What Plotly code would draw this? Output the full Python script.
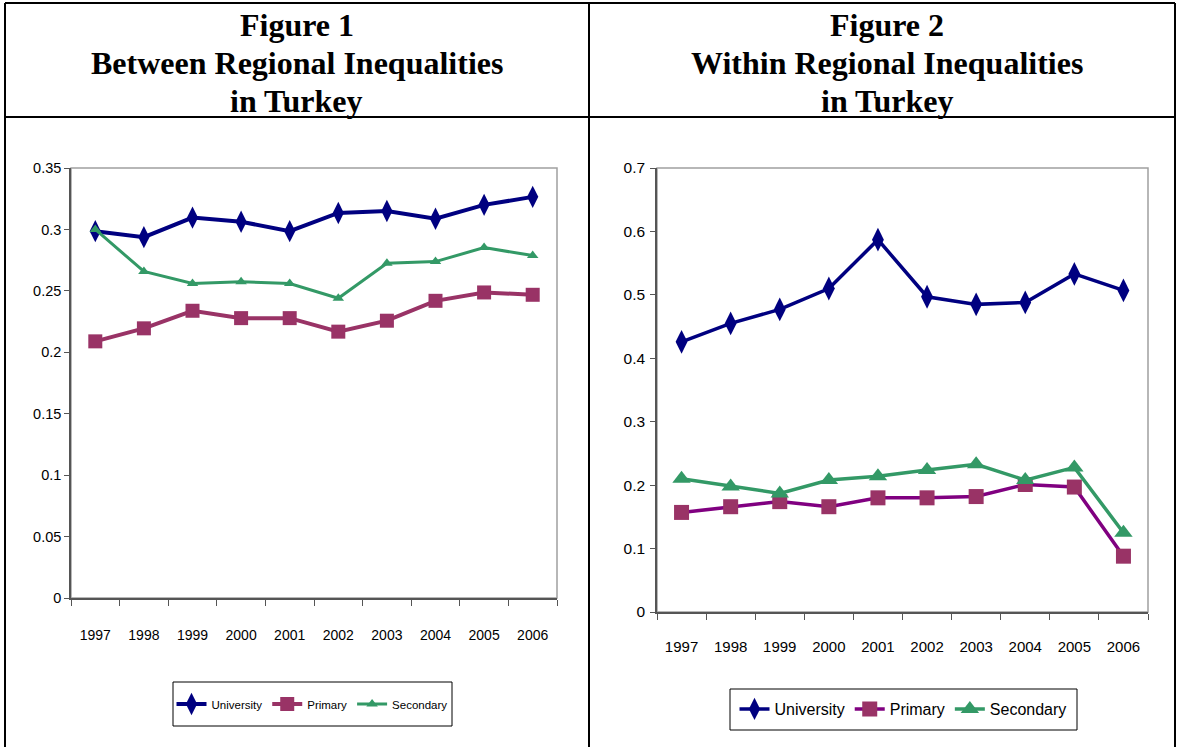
import plotly.graph_objects as go

# ---------------- data ----------------
years = ["1997", "1998", "1999", "2000", "2001", "2002", "2003", "2004", "2005", "2006"]

# Figure 1: Between regional inequalities
between_university = [0.2986, 0.2937, 0.3096, 0.3063, 0.2986, 0.3134, 0.3150, 0.3087, 0.3200, 0.3265]
between_primary = [0.2089, 0.2195, 0.2338, 0.2278, 0.2278, 0.2168, 0.2257, 0.2419, 0.2487, 0.2468]
between_secondary = [0.3000, 0.2658, 0.2560, 0.2574, 0.2560, 0.2440, 0.2724, 0.2738, 0.2852, 0.2787]

# Figure 2: Within regional inequalities
within_university = [0.426, 0.455, 0.477, 0.510, 0.587, 0.497, 0.485, 0.488, 0.533, 0.507]
within_primary = [0.157, 0.166, 0.174, 0.166, 0.180, 0.180, 0.182, 0.201, 0.197, 0.088]
within_secondary = [0.210, 0.198, 0.187, 0.208, 0.214, 0.224, 0.233, 0.208, 0.228, 0.125]

series_names = ["University", "Primary", "Secondary"]
title1 = ["Figure 1", "Between Regional Inequalities", "in Turkey"]
title2 = ["Figure 2", "Within Regional Inequalities", "in Turkey"]

# ---------------- styling ----------------
W, H = 1177, 747
NAVY = "#000080"
PLUM = "#993366"
PURPLE = "#800080"
GREEN = "#339966"
SANS = "Liberation Sans, Arial, sans-serif"
SERIF = "Liberation Serif, Times New Roman, serif"


def px(x):
    return x / W


def py(y):
    return 1 - y / H


fig = go.Figure()

# Figure 1 traces
fig.add_trace(go.Scatter(x=years, y=between_university, name=series_names[0], mode="lines+markers",
                         line=dict(color=NAVY, width=4),
                         marker=dict(symbol="diamond-tall", size=16, color=NAVY),
                         xaxis="x", yaxis="y", legend="legend"))
fig.add_trace(go.Scatter(x=years, y=between_primary, name=series_names[1], mode="lines+markers",
                         line=dict(color=PLUM, width=4),
                         marker=dict(symbol="square", size=14, color=PLUM),
                         xaxis="x", yaxis="y", legend="legend"))
fig.add_trace(go.Scatter(x=years, y=between_secondary, name=series_names[2], mode="lines+markers",
                         line=dict(color=GREEN, width=3),
                         marker=dict(symbol="triangle-up", size=10, color=GREEN),
                         xaxis="x", yaxis="y", legend="legend"))

# Figure 2 traces
fig.add_trace(go.Scatter(x=years, y=within_university, name=series_names[0], mode="lines+markers",
                         line=dict(color=NAVY, width=3.5),
                         marker=dict(symbol="diamond-tall", size=17, color=NAVY),
                         xaxis="x2", yaxis="y2", legend="legend2"))
fig.add_trace(go.Scatter(x=years, y=within_primary, name=series_names[1], mode="lines+markers",
                         line=dict(color=PURPLE, width=3.5),
                         marker=dict(symbol="square", size=15, color=PLUM),
                         xaxis="x2", yaxis="y2", legend="legend2"))
fig.add_trace(go.Scatter(x=years, y=within_secondary, name=series_names[2], mode="lines+markers",
                         line=dict(color=GREEN, width=3.5),
                         marker=dict(symbol="triangle-up", size=16, color=GREEN),
                         xaxis="x2", yaxis="y2", legend="legend2"))

axis_common = dict(showgrid=False, zeroline=False, showline=True, linecolor="#555555", linewidth=1.5,
                   ticks="outside", tickcolor="#555555", tickwidth=1.2, fixedrange=True,
                   automargin=False)

fig.update_layout(
    width=W, height=H, autosize=False,
    margin=dict(l=0, r=0, t=0, b=0, pad=0, autoexpand=False),
    paper_bgcolor="white", plot_bgcolor="white",
    xaxis=dict(**axis_common, domain=[px(71), px(557)], anchor="y", type="category",
               range=[-0.5, 9.5], tickson="boundaries", ticklen=6, tickangle=0,
               ticklabelstandoff=23, tickfont=dict(family=SANS, size=14, color="black")),
    yaxis=dict(**axis_common, domain=[py(598), py(168)], anchor="x", range=[0, 0.35],
               dtick=0.05, ticklen=5, ticklabelstandoff=0,
               tickfont=dict(family=SANS, size=14.5, color="black")),
    xaxis2=dict(**axis_common, domain=[px(657), px(1148)], anchor="y2", type="category",
                range=[-0.5, 9.5], tickson="boundaries", ticklen=6, tickangle=0,
                ticklabelstandoff=20, tickfont=dict(family=SANS, size=15, color="black")),
    yaxis2=dict(**axis_common, domain=[py(612), py(168)], anchor="x2", range=[0, 0.7],
                dtick=0.1, ticklen=5, ticklabelstandoff=2,
                tickfont=dict(family=SANS, size=15.5, color="black")),
    legend=dict(orientation="h", x=px(312), y=py(704), xanchor="center", yanchor="middle",
                bgcolor="rgba(0,0,0,0)", borderwidth=0,
                font=dict(family=SANS, size=11.5, color="black"),
                itemwidth=30, tracegroupgap=0),
    legend2=dict(orientation="h", x=px(903), y=py(709), xanchor="center", yanchor="middle",
                 bgcolor="rgba(0,0,0,0)", borderwidth=0,
                 font=dict(family=SANS, size=16, color="black"),
                 itemwidth=30, tracegroupgap=0),
    showlegend=True,
)

shapes = []
# plot-area frames (light grey)
for xr, yr in (("x domain", "y domain"), ("x2 domain", "y2 domain")):
    shapes.append(dict(type="rect", xref=xr, yref=yr, x0=0, x1=1, y0=0, y1=1,
                       line=dict(color="#a0a0a0", width=1.5), layer="below"))
# legend boxes
for x0, x1, y0, y1 in ((173, 452, 682, 726), (730, 1077, 689, 730)):
    shapes.append(dict(type="rect", xref="paper", yref="paper", x0=px(x0), x1=px(x1),
                       y0=py(y1), y1=py(y0), line=dict(color="black", width=1)))
# table lines
tbl = dict(color="black", width=2)
shapes += [
    dict(type="line", xref="paper", yref="paper", x0=px(5), x1=px(1175), y0=py(3), y1=py(3), line=tbl),
    dict(type="line", xref="paper", yref="paper", x0=px(5), x1=px(1175), y0=py(117), y1=py(117), line=tbl),
    dict(type="line", xref="paper", yref="paper", x0=px(5), x1=px(5), y0=py(3), y1=py(747), line=tbl),
    dict(type="line", xref="paper", yref="paper", x0=px(589), x1=px(589), y0=py(3), y1=py(747), line=tbl),
    dict(type="line", xref="paper", yref="paper", x0=px(1175), x1=px(1175), y0=py(3), y1=py(747), line=tbl),
]
fig.update_layout(shapes=shapes)

annotations = []
line_y = [25, 63, 101]
for cx, lines in ((297, title1), (887, title2)):
    for yy, txt in zip(line_y, lines):
        annotations.append(dict(text="<b>" + txt + "</b>", x=px(cx), y=py(yy), xref="paper", yref="paper",
                                xanchor="center", yanchor="middle", showarrow=False,
                                font=dict(family=SERIF, size=32, color="black")))
fig.update_layout(annotations=annotations)

post = """
document.documentElement.style.margin='0';
document.documentElement.style.padding='0';
document.documentElement.style.overflow='hidden';
document.body.style.margin='0';
document.body.style.padding='0';
document.body.style.overflow='hidden';
"""

fig.write_html("out.html", config={"displayModeBar": False}, post_script=post)
